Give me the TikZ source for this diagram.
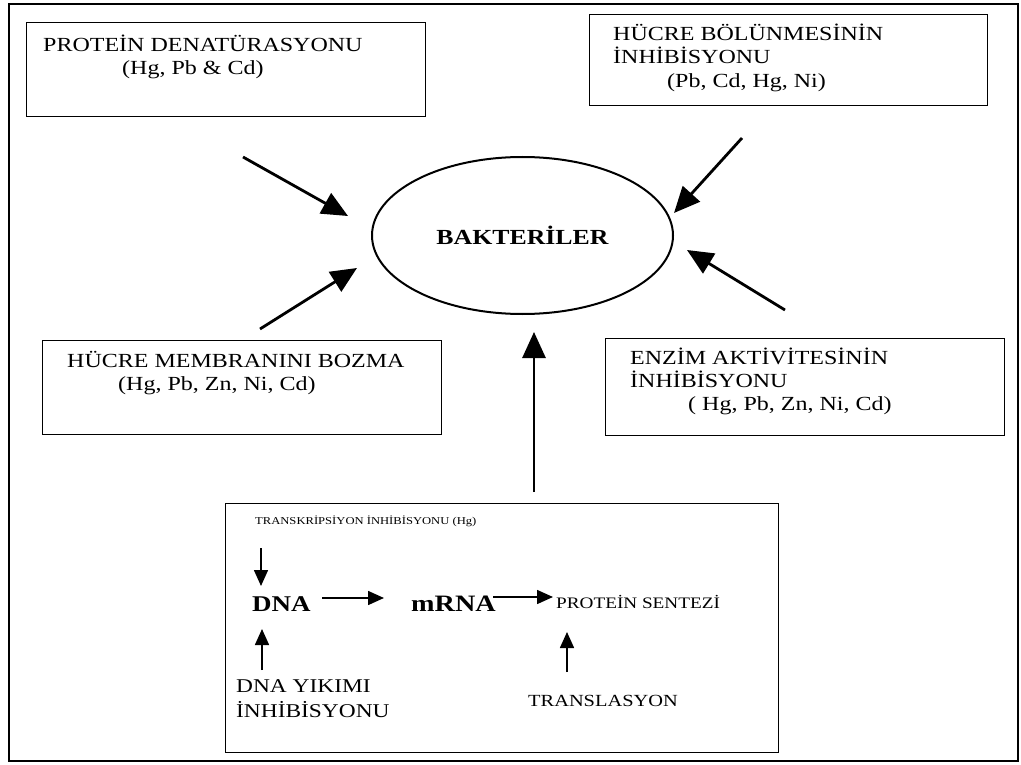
\documentclass[tikz,border=0pt]{standalone}
\usepackage{fontspec}
\setmainfont{Liberation Serif}[FakeStretch=1.2]
\usetikzlibrary{arrows.meta,shapes.geometric}
\begin{document}
\begin{tikzpicture}[x=1pt,y=-1pt,
  box/.style={draw, line width=1.3pt, inner sep=0, anchor=north west},
  lbl/.style={anchor=base west, inner sep=0, font=\fontsize{20}{24}\selectfont},
  big/.style={line width=2.8pt, -{Triangle[length=26pt,width=23pt]}},
  small/.style={line width=1.6pt, -{Triangle[length=16pt,width=14pt]}}]
\useasboundingbox (0,0) rectangle (1021,765);
\node[draw, line width=1.6pt, inner sep=0, anchor=north west, minimum width=1009pt, minimum height=757pt] (frame) at (8,3) {};
% boxes
\node[box, minimum width=399pt, minimum height=94pt] (b1) at (26,22) {};
\node[box, minimum width=398pt, minimum height=91pt] (b2) at (589,14) {};
\node[box, minimum width=399pt, minimum height=94pt] (b3) at (42,340) {};
\node[box, minimum width=399pt, minimum height=97pt] (b4) at (605,338) {};
\node[box, minimum width=553pt, minimum height=249pt] (b5) at (225,503) {};
% box texts
\node[lbl] (t1a) at (43,52) {PROTEİN DENATÜRASYONU};
\node[lbl] (t1b) at (122,75) {(Hg, Pb \& Cd)};
\node[lbl] (t2a) at (613,41) {HÜCRE BÖLÜNMESİNİN};
\node[lbl] (t2b) at (613,64) {İNHİBİSYONU};
\node[lbl] (t2c) at (667,88) {(Pb, Cd, Hg, Ni)};
\node[lbl] (t3a) at (67,367) {HÜCRE MEMBRANINI BOZMA};
\node[lbl] (t3b) at (118,390) {(Hg, Pb, Zn, Ni, Cd)};
\node[lbl] (t4a) at (630,364) {ENZİM AKTİVİTESİNİN};
\node[lbl] (t4b) at (630,387) {İNHİBİSYONU};
\node[lbl] (t4c) at (688,410) {( Hg, Pb, Zn, Ni, Cd)};
% ellipse
\node[draw, ellipse, line width=2pt, minimum width=301pt, minimum height=157pt, inner sep=0,
      font=\bfseries\fontsize{21.5}{24}\selectfont] (bak) at (522.5,235.5) {BAKTERİLER};
% big arrows
\coordinate (a1s) at (243,157); \coordinate (a1e) at (348,216);
\coordinate (a2s) at (260,329); \coordinate (a2e) at (357,268);
\coordinate (a3s) at (742,138); \coordinate (a3e) at (674,213);
\coordinate (a4s) at (785,310); \coordinate (a4e) at (687,250);
\coordinate (a5s) at (534,492); \coordinate (a5e) at (534,332);
\draw[big] (a1s) -- (a1e);
\draw[big] (a2s) -- (a2e);
\draw[big] (a3s) -- (a3e);
\draw[big] (a4s) -- (a4e);
\draw[big] (a5s) -- (a5e);
% bottom box content
\node[lbl, font=\fontsize{10.5}{12}\selectfont] (tr) at (255,524) {TRANSKRİPSİYON İNHİBİSYONU (Hg)};
\node[lbl, font=\bfseries\fontsize{22.5}{24}\selectfont] (dna) at (252,611) {DNA};
\node[lbl, font=\bfseries\fontsize{23.5}{24}\selectfont] (mrna) at (411,611) {mRNA};
\node[lbl, font=\fontsize{16}{18}\selectfont] (ps) at (556,608) {PROTEİN SENTEZİ};
\node[lbl, font=\fontsize{19.5}{22}\selectfont] (dy1) at (236,692) {DNA YIKIMI};
\node[lbl, font=\fontsize{19.5}{22}\selectfont] (dy2) at (236,717) {İNHİBİSYONU};
\node[lbl, font=\fontsize{17}{20}\selectfont] (tl) at (528,706) {TRANSLASYON};
\coordinate (s1s) at (261,548); \coordinate (s1e) at (261,586);
\coordinate (s2s) at (322,598); \coordinate (s2e) at (384,598);
\coordinate (s3s) at (493,597); \coordinate (s3e) at (553,597);
\coordinate (s4s) at (262,670); \coordinate (s4e) at (262,629);
\coordinate (s5s) at (567,672); \coordinate (s5e) at (567,632);
\draw[small] (s1s) -- (s1e);
\draw[small] (s2s) -- (s2e);
\draw[small] (s3s) -- (s3e);
\draw[small] (s4s) -- (s4e);
\draw[small] (s5s) -- (s5e);
\end{tikzpicture}
\end{document}
